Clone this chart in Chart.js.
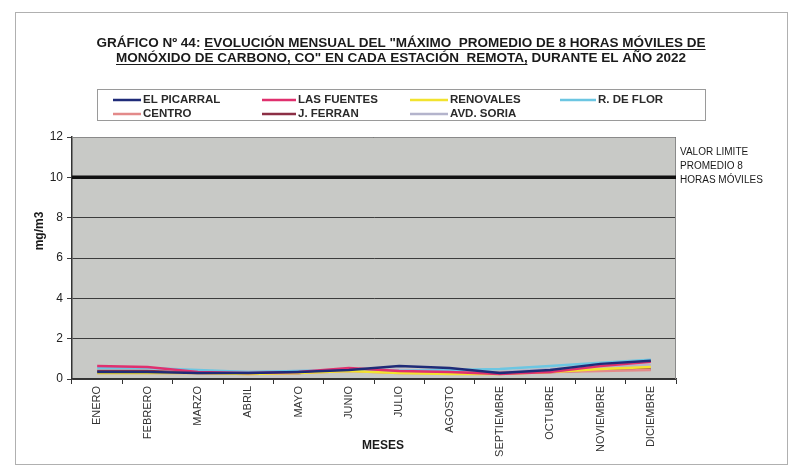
<!DOCTYPE html>
<html>
<head>
<meta charset="utf-8">
<script src="https://cdn.jsdelivr.net/npm/chart.js@4/dist/chart.umd.min.js"></script>
<style>
  html, body { margin: 0; padding: 0; background: #ffffff; }
  #wrap { width: 795px; height: 470px; position: relative; }
</style>
</head>
<body>
<div id="wrap"><canvas id="c" width="795" height="470"></canvas></div>
<script>
// Months on the x axis
const meses = ['ENERO', 'FEBRERO', 'MARZO', 'ABRIL', 'MAYO', 'JUNIO', 'JULIO',
               'AGOSTO', 'SEPTIEMBRE', 'OCTUBRE', 'NOVIEMBRE', 'DICIEMBRE'];

// Monthly maximum 8-hour rolling mean of CO (mg/m3) per station
const elPicarral = [0.35, 0.35, 0.30, 0.30, 0.35, 0.45, 0.65, 0.55, 0.30, 0.45, 0.75, 0.90];
const lasFuentes = [0.65, 0.60, 0.35, 0.30, 0.35, 0.55, 0.40, 0.35, 0.25, 0.35, 0.65, 0.85];
const renovales  = [0.30, 0.30, 0.30, 0.25, 0.30, 0.40, 0.30, 0.25, 0.25, 0.35, 0.50, 0.60];
const rDeFlor    = [0.55, 0.55, 0.45, 0.35, 0.40, 0.45, 0.40, 0.45, 0.50, 0.65, 0.80, 0.95];
const centro     = [0.30, 0.30, 0.30, 0.25, 0.30, 0.40, 0.30, 0.30, 0.30, 0.35, 0.40, 0.45];
const jFerran    = [0.40, 0.40, 0.30, 0.30, 0.30, 0.50, 0.35, 0.30, 0.30, 0.35, 0.45, 0.50];
const avdSoria   = [0.35, 0.35, 0.40, 0.35, 0.40, 0.45, 0.45, 0.40, 0.35, 0.50, 0.60, 0.70];

// Legal limit for the 8-hour rolling mean
const valorLimite = 10;

// Y axis ticks
const yTicks = [0, 2, 4, 6, 8, 10, 12];

const series = [
  { label: 'EL PICARRAL', data: elPicarral, color: '#1f2b78' },
  { label: 'LAS FUENTES', data: lasFuentes, color: '#e0306e' },
  { label: 'RENOVALES',   data: renovales,  color: '#f2e32e' },
  { label: 'R. DE FLOR',  data: rDeFlor,    color: '#6cc6e2' },
  { label: 'CENTRO',      data: centro,     color: '#e38a8a' },
  { label: 'J. FERRAN',   data: jFerran,    color: '#8c2f45' },
  { label: 'AVD. SORIA',  data: avdSoria,   color: '#b4b4cc' }
];

const FONT = 'Arial, "Liberation Sans", sans-serif';

// Frame, heading, legend box, limit line and side notes
const decor = {
  id: 'decor',
  beforeDraw(chart) {
    const { ctx, chartArea: a } = chart;
    ctx.save();
    ctx.fillStyle = '#ffffff';
    ctx.fillRect(0, 0, chart.width, chart.height);
    // outer frame
    ctx.strokeStyle = '#b0b0b0';
    ctx.lineWidth = 1;
    ctx.strokeRect(15.5, 12.5, 772, 452);
    // plot background
    ctx.fillStyle = '#c8c9c6';
    ctx.fillRect(a.left, a.top, a.right - a.left, a.bottom - a.top);
    ctx.restore();
  },
  afterDatasetsDraw(chart) {
    const { ctx, chartArea: a, scales } = chart;
    ctx.save();
    // plot border (top / right)
    ctx.strokeStyle = '#8a8a8a';
    ctx.lineWidth = 1;
    ctx.beginPath();
    ctx.moveTo(a.left, a.top + 0.5);
    ctx.lineTo(a.right - 0.5, a.top + 0.5);
    ctx.lineTo(a.right - 0.5, a.bottom);
    ctx.stroke();
    // limit line
    const yl = scales.y.getPixelForValue(valorLimite);
    ctx.strokeStyle = '#111111';
    ctx.lineWidth = 3.5;
    ctx.beginPath();
    ctx.moveTo(a.left, yl);
    ctx.lineTo(a.right, yl);
    ctx.stroke();

    // side note for the limit
    ctx.fillStyle = '#1a1a1a';
    ctx.font = '10px ' + FONT;
    ctx.textAlign = 'left';
    ctx.textBaseline = 'middle';
    ['VALOR LIMITE', 'PROMEDIO 8', 'HORAS MÓVILES'].forEach((t, i) => {
      ctx.fillText(t, a.right + 4, yl - 25 + i * 14);
    });

    // heading with partial underline
    ctx.font = 'bold 13.5px ' + FONT;
    ctx.fillStyle = '#1a1a1a';
    ctx.strokeStyle = '#1a1a1a';
    ctx.lineWidth = 1;
    ctx.textBaseline = 'alphabetic';
    const lines = [
      { pre: 'GRÁFICO Nº 44: ', und: 'EVOLUCIÓN MENSUAL DEL "MÁXIMO  PROMEDIO DE 8 HORAS MÓVILES DE', post: '', y: 47 },
      { pre: '', und: 'MONÓXIDO DE CARBONO, CO" EN CADA ESTACIÓN  REMOTA, ', post: 'DURANTE EL AÑO 2022', y: 62 }
    ];
    const cx = 401;
    lines.forEach(l => {
      const wPre = ctx.measureText(l.pre).width;
      const wUnd = ctx.measureText(l.und).width;
      const wPost = ctx.measureText(l.post).width;
      const x = cx - (wPre + wUnd + wPost) / 2;
      ctx.textAlign = 'left';
      ctx.fillText(l.pre, x, l.y);
      ctx.fillText(l.und, x + wPre, l.y);
      ctx.fillText(l.post, x + wPre + wUnd, l.y);
      ctx.beginPath();
      ctx.moveTo(x + wPre, l.y + 2.5);
      ctx.lineTo(x + wPre + wUnd - (l.post ? 4 : 0), l.y + 2.5);
      ctx.stroke();
    });

    // legend box
    ctx.strokeStyle = '#9a9a9a';
    ctx.lineWidth = 1;
    ctx.strokeRect(97.5, 89.5, 608, 31);
    const colLine = [113, 262, 410, 560];
    const colText = [143, 298, 450, 598];
    const rowY = [100, 114];
    ctx.font = 'bold 11.5px ' + FONT;
    ctx.textBaseline = 'middle';
    ctx.textAlign = 'left';
    chart.data.datasets.forEach((ds, i) => {
      const r = Math.floor(i / 4), c = i % 4;
      const y = rowY[r];
      ctx.strokeStyle = ds.borderColor;
      ctx.lineWidth = 2.5;
      ctx.beginPath();
      ctx.moveTo(colLine[c], y);
      ctx.lineTo(colText[c] - 2, y);
      ctx.stroke();
      ctx.fillStyle = '#2a2a2a';
      ctx.fillText(ds.label, colText[c], y);
    });

    // axis titles
    ctx.fillStyle = '#1a1a1a';
    ctx.font = 'bold 12px ' + FONT;
    ctx.textAlign = 'center';
    ctx.fillText('MESES', 383, 446);
    ctx.save();
    ctx.translate(40, 231);
    ctx.rotate(-Math.PI / 2);
    ctx.fillText('mg/m3', 0, 0);
    ctx.restore();

    ctx.restore();
  }
};

new Chart(document.getElementById('c'), {
  type: 'line',
  data: {
    labels: meses,
    datasets: series.map(s => ({
      label: s.label,
      data: s.data,
      borderColor: s.color,
      backgroundColor: s.color,
      borderWidth: 2.5,
      pointRadius: 0,
      tension: 0
    }))
  },
  options: {
    responsive: false,
    animation: false,
    devicePixelRatio: 1,
    layout: { padding: { top: 137, right: 119, bottom: 0, left: 0 } },
    plugins: {
      legend: { display: false },
      title: { display: false },
      tooltip: { enabled: false }
    },
    scales: {
      x: {
        type: 'category',
        offset: true,
        afterFit(s) { s.height = 91; },
        grid: {
          offset: true,
          drawOnChartArea: false,
          drawTicks: true,
          tickLength: 5,
          color: '#333333'
        },
        border: { display: true, color: '#333333', width: 1.5 },
        ticks: {
          maxRotation: 90,
          minRotation: 90,
          autoSkip: false,
          padding: 2,
          color: '#333333',
          font: { family: FONT, size: 11 }
        }
      },
      y: {
        min: 0,
        max: 12,
        afterFit(s) { s.width = 72; },
        afterBuildTicks(s) { s.ticks = yTicks.map(v => ({ value: v })); },
        grid: {
          color: '#3c3c3c',
          lineWidth: 1,
          tickLength: 5,
          drawTicks: true
        },
        border: { display: true, color: '#333333', width: 1.5 },
        ticks: {
          padding: 4,
          color: '#222222',
          font: { family: FONT, size: 12 }
        }
      }
    }
  },
  plugins: [decor]
});
</script>
</body>
</html>
